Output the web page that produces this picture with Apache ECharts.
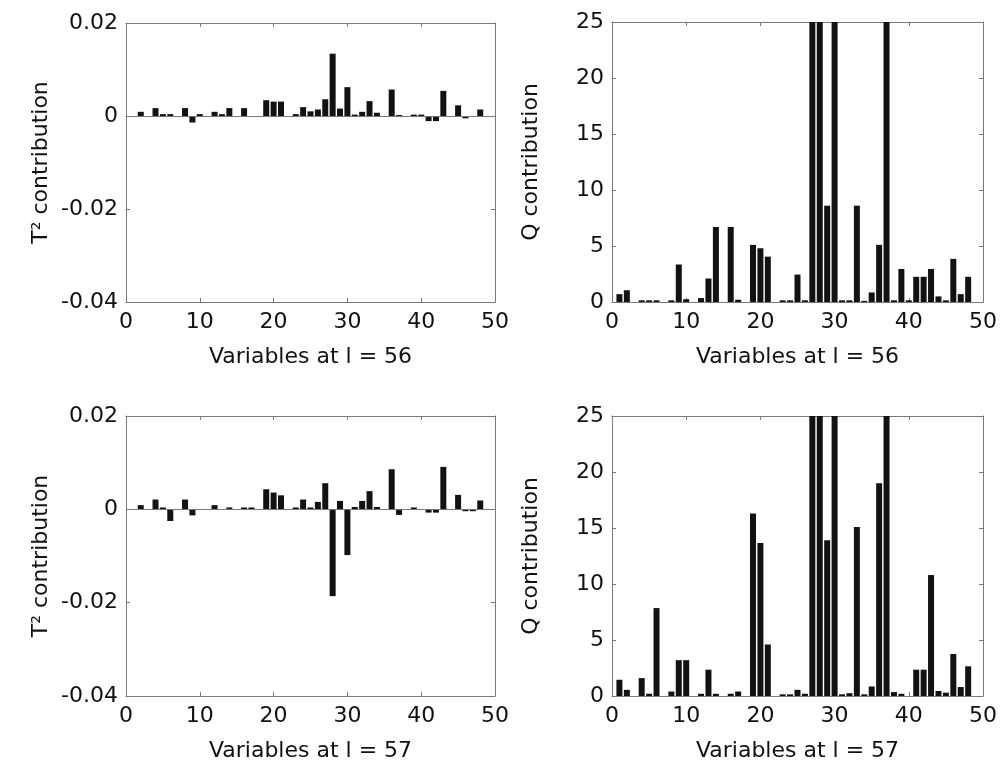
<!DOCTYPE html>
<html>
<head>
<meta charset="utf-8">
<script src="https://cdn.jsdelivr.net/npm/echarts@6/dist/echarts.min.js"></script>
<style>
html,body{margin:0;padding:0;background:#fff;}
#chart{width:1000px;height:765px;}
</style>
</head>
<body>
<div id="chart"></div>
<script>
// Variables 1..48
const variables = Array.from({length: 48}, (_, i) => i + 1);

// T^2 contribution at l = 56
const t2_56 = [0, 0.0009, 0, 0.0017, 0.0004, 0.0004, 0, 0.0017, -0.0014, 0.0004,
  0, 0.0009, 0.0004, 0.0017, 0, 0.0017, 0, 0, 0.0034, 0.0031,
  0.0031, 0, 0.0004, 0.0019, 0.0010, 0.0014, 0.0036, 0.0134, 0.0016, 0.0062,
  0.0003, 0.0009, 0.0032, 0.0007, 0, 0.0057, 0.0002, 0, 0.0003, 0.0003,
  -0.0011, -0.0011, 0.0054, 0, 0.0023, -0.0005, 0, 0.0014];

// Q contribution at l = 56 (bars above 25 are clipped in the original)
const q_56 = [0.7, 1.05, 0, 0.15, 0.15, 0.15, 0, 0.15, 3.35, 0.25,
  0, 0.35, 2.1, 6.7, 0, 6.7, 0.2, 0, 5.1, 4.8,
  4.05, 0, 0.15, 0.15, 2.45, 0.15, 40, 40, 8.6, 40,
  0.15, 0.15, 8.6, 0.1, 0.85, 5.1, 40, 0.15, 2.95, 0.15,
  2.25, 2.25, 2.95, 0.5, 0.15, 3.85, 0.7, 2.25];

// T^2 contribution at l = 57
const t2_57 = [0, 0.0009, 0, 0.0021, 0.0004, -0.0025, 0, 0.0021, -0.0013, 0,
  0, 0.0009, 0, 0.0004, 0, 0.0004, 0.0004, 0, 0.0043, 0.0036,
  0.0030, 0, 0.0004, 0.0021, 0.0004, 0.0016, 0.0056, -0.0186, 0.0018, -0.0098,
  0.0005, 0.0018, 0.0039, 0.0005, 0, 0.0086, -0.0012, 0, 0.0004, 0,
  -0.0007, -0.0007, 0.0091, 0, 0.0031, -0.0004, -0.0004, 0.0019];

// Q contribution at l = 57
const q_57 = [1.45, 0.55, 0, 1.6, 0.2, 7.85, 0, 0.4, 3.2, 3.2,
  0, 0.2, 2.35, 0.2, 0, 0.2, 0.4, 0, 16.3, 13.65,
  4.6, 0, 0.15, 0.15, 0.55, 0.2, 40, 40, 13.9, 40,
  0.15, 0.25, 15.1, 0.15, 0.85, 19.0, 40, 0.35, 0.2, 0,
  2.35, 2.35, 10.8, 0.45, 0.3, 3.75, 0.8, 2.65];

const xTicks = [0, 10, 20, 30, 40, 50];
const t2Ticks = [-0.04, -0.02, 0, 0.02];
const qTicks = [0, 5, 10, 15, 20, 25];

const panels = [
  {data: t2_56, yName: 'T² contribution', xName: 'Variables at l = 56', kind: 't2'},
  {data: q_56,  yName: 'Q contribution',  xName: 'Variables at l = 56', kind: 'q'},
  {data: t2_57, yName: 'T² contribution', xName: 'Variables at l = 57', kind: 't2'},
  {data: q_57,  yName: 'Q contribution',  xName: 'Variables at l = 57', kind: 'q'}
];

const grids = [
  {left: 126, top: 23, width: 369, height: 279},
  {left: 612, top: 22, width: 371, height: 280},
  {left: 126, top: 416, width: 369, height: 280},
  {left: 612, top: 416, width: 371, height: 280}
];

const FONT = 'DejaVu Sans';
const TXT = '#111111';
const AX = '#7a7a6e';
const BAR = '#121212';

const xAxes = [], yAxes = [], series = [];
panels.forEach((p, i) => {
  const isT2 = p.kind === 't2';
  const yMin = isT2 ? t2Ticks[0] : qTicks[0];
  const yMax = isT2 ? t2Ticks[t2Ticks.length - 1] : qTicks[qTicks.length - 1];
  const yInt = isT2 ? 0.02 : 5;
  xAxes.push({
    type: 'value', gridIndex: i, position: 'bottom',
    min: xTicks[0], max: xTicks[xTicks.length - 1], interval: 10,
    name: p.xName, nameLocation: 'middle', nameGap: 44,
    nameTextStyle: {fontFamily: FONT, fontSize: 22, color: TXT},
    axisLine: {onZero: false, lineStyle: {color: AX, width: 1}},
    axisTick: {inside: true, length: 4, lineStyle: {color: AX}},
    axisLabel: {fontFamily: FONT, fontSize: 22, color: TXT, margin: 9},
    splitLine: {show: false}
  });
  yAxes.push({
    type: 'value', gridIndex: i, position: 'left',
    min: yMin, max: yMax, interval: yInt,
    name: p.yName, nameLocation: 'middle', nameRotate: 90,
    nameGap: isT2 ? 74 : 70,
    nameTextStyle: {fontFamily: FONT, fontSize: 22, color: TXT},
    axisLine: {onZero: false, lineStyle: {color: AX, width: 1}},
    axisTick: {inside: true, length: 4, lineStyle: {color: AX}},
    axisLabel: {fontFamily: FONT, fontSize: 22, color: TXT, margin: 8},
    splitLine: {show: false}
  });
  series.push({
    type: 'bar', xAxisIndex: i, yAxisIndex: i,
    data: variables.map((v, k) => [v, p.data[k]]),
    barWidth: 6,
    clip: true,
    itemStyle: {color: BAR},
    silent: true,
    markLine: isT2 ? {
      silent: true, symbol: 'none', label: {show: false},
      lineStyle: {color: AX, width: 1, type: 'solid'},
      data: [{yAxis: 0}]
    } : undefined
  });
});
// mirrored top / right axes for box ticks
panels.forEach((p, i) => {
  const isT2 = p.kind === 't2';
  xAxes.push({
    type: 'value', gridIndex: i, position: 'top',
    min: 0, max: 50, interval: 10,
    axisLine: {onZero: false, lineStyle: {color: AX}},
    axisTick: {inside: true, length: 4, lineStyle: {color: AX}},
    axisLabel: {show: false}, splitLine: {show: false}
  });
  yAxes.push({
    type: 'value', gridIndex: i, position: 'right',
    min: isT2 ? -0.04 : 0, max: isT2 ? 0.02 : 25, interval: isT2 ? 0.02 : 5,
    axisLine: {onZero: false, lineStyle: {color: AX}},
    axisTick: {inside: true, length: 4, lineStyle: {color: AX}},
    axisLabel: {show: false}, splitLine: {show: false}
  });
});

const chart = echarts.init(document.getElementById('chart'), null, {renderer: 'canvas'});
chart.setOption({
  backgroundColor: '#ffffff',
  animation: false,
  grid: grids.map(g => Object.assign({show: false, containLabel: false}, g)),
  xAxis: xAxes,
  yAxis: yAxes,
  series: series
});
</script>
</body>
</html>
